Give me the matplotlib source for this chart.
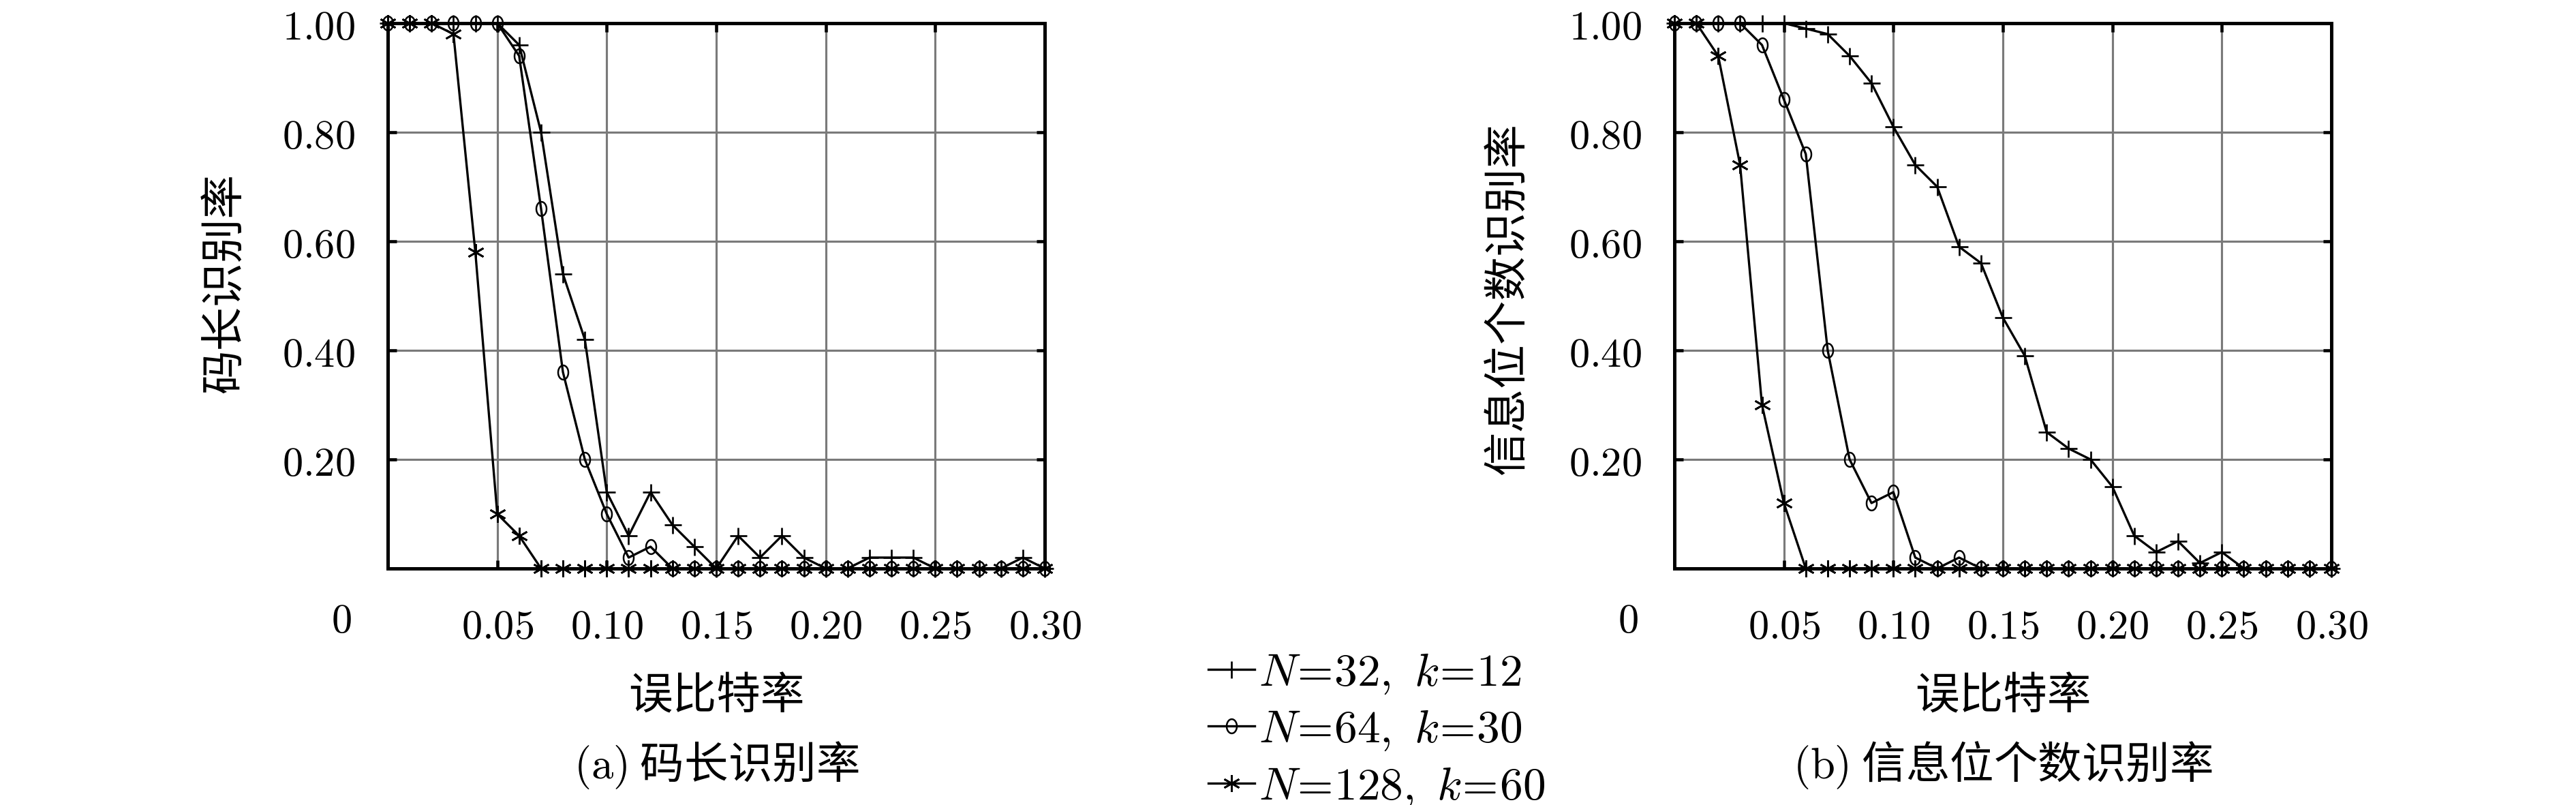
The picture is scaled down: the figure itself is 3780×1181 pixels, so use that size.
import matplotlib
matplotlib.use("Agg")
import matplotlib.pyplot as plt
from matplotlib.path import Path
from matplotlib.ticker import FuncFormatter
import numpy as np

plt.rcParams['font.family'] = ['Noto Sans CJK SC', 'DejaVu Sans']
plt.rcParams['mathtext.fontset'] = 'cm'
plt.rcParams['axes.unicode_minus'] = False

# ---------------- data ----------------
ber = [0.00, 0.01, 0.02, 0.03, 0.04, 0.05, 0.06, 0.07, 0.08, 0.09, 0.10,
       0.11, 0.12, 0.13, 0.14, 0.15, 0.16, 0.17, 0.18, 0.19, 0.20,
       0.21, 0.22, 0.23, 0.24, 0.25, 0.26, 0.27, 0.28, 0.29, 0.30]

# (a) code length recognition rate
a_n32 = [1.00, 1.00, 1.00, 1.00, 1.00, 1.00, 0.96, 0.80, 0.54, 0.42, 0.14,
         0.06, 0.14, 0.08, 0.04, 0.00, 0.06, 0.02, 0.06, 0.02, 0.00,
         0.00, 0.02, 0.02, 0.02, 0.00, 0.00, 0.00, 0.00, 0.02, 0.00]
a_n64 = [1.00, 1.00, 1.00, 1.00, 1.00, 1.00, 0.94, 0.66, 0.36, 0.20, 0.10,
         0.02, 0.04, 0.00, 0.00, 0.00, 0.00, 0.00, 0.00, 0.00, 0.00,
         0.00, 0.00, 0.00, 0.00, 0.00, 0.00, 0.00, 0.00, 0.00, 0.00]
a_n128 = [1.00, 1.00, 1.00, 0.98, 0.58, 0.10, 0.06, 0.00, 0.00, 0.00, 0.00,
          0.00, 0.00, 0.00, 0.00, 0.00, 0.00, 0.00, 0.00, 0.00, 0.00,
          0.00, 0.00, 0.00, 0.00, 0.00, 0.00, 0.00, 0.00, 0.00, 0.00]

# (b) information-bit count recognition rate
b_n32 = [1.00, 1.00, 1.00, 1.00, 1.00, 1.00, 0.99, 0.98, 0.94, 0.89, 0.81,
         0.74, 0.70, 0.59, 0.56, 0.46, 0.39, 0.25, 0.22, 0.20, 0.15,
         0.06, 0.03, 0.05, 0.01, 0.03, 0.00, 0.00, 0.00, 0.00, 0.00]
b_n64 = [1.00, 1.00, 1.00, 1.00, 0.96, 0.86, 0.76, 0.40, 0.20, 0.12, 0.14,
         0.02, 0.00, 0.02, 0.00, 0.00, 0.00, 0.00, 0.00, 0.00, 0.00,
         0.00, 0.00, 0.00, 0.00, 0.00, 0.00, 0.00, 0.00, 0.00, 0.00]
b_n128 = [1.00, 1.00, 0.94, 0.74, 0.30, 0.12, 0.00, 0.00, 0.00, 0.00, 0.00,
          0.00, 0.00, 0.00, 0.00, 0.00, 0.00, 0.00, 0.00, 0.00, 0.00,
          0.00, 0.00, 0.00, 0.00, 0.00, 0.00, 0.00, 0.00, 0.00, 0.00]

series_labels = [r"$N\!=\!32,\ k\!=\!12$", r"$N\!=\!64,\ k\!=\!30$",
                 r"$N\!=\!128,\ k\!=\!60$"]
x_ticks = [0.05, 0.10, 0.15, 0.20, 0.25, 0.30]
y_ticks = [0.20, 0.40, 0.60, 0.80, 1.00]
x_label = "误比特率"
y_labels = ["码长识别率", "信息位个数识别率"]
captions = [r"$\mathrm{(a)}$ 码长识别率", r"$\mathrm{(b)}$ 信息位个数识别率"]

# ---------------- styling ----------------
W, H = 3780, 1181
fig = plt.figure(figsize=(W / 300, H / 300), dpi=300)

th = np.linspace(0, 2 * np.pi, 41)
ellipse = Path(np.column_stack([0.72 * np.cos(th), np.sin(th)]), closed=True)

styles = [
    dict(marker='+', markersize=6.0, markeredgewidth=0.65),
    dict(marker=ellipse, markersize=5.0, markeredgewidth=0.6, markerfacecolor='none'),
    dict(marker=(6, 2, 0), markersize=6.0, markeredgewidth=0.65),
]

ax_left_px = [569, 2457]
ax_w_px, ax_top_px, ax_bot_px = 964, 34, 834

panels = [(a_n32, a_n64, a_n128), (b_n32, b_n64, b_n128)]
handles = None
for k, data in enumerate(panels):
    ax = fig.add_axes([ax_left_px[k] / W, 1 - ax_bot_px / H,
                       ax_w_px / W, (ax_bot_px - ax_top_px) / H])
    hs = []
    for ys, st in zip(data, styles):
        h, = ax.plot(ber, ys, color='black', linewidth=0.8, clip_on=False,
                     zorder=3, **st)
        hs.append(h)
    handles = hs
    ax.set_xlim(0, 0.30)
    ax.set_ylim(0, 1.0)
    ax.set_xticks(x_ticks)
    ax.set_yticks(y_ticks)
    ax.xaxis.set_major_formatter(FuncFormatter(lambda v, p: f"${v:.2f}$"))
    ax.yaxis.set_major_formatter(FuncFormatter(lambda v, p: f"${v:.2f}$"))
    ax.tick_params(axis='both', direction='in', length=3.0, width=1.1,
                   top=True, right=True, labelsize=14.5, colors='black')
    ax.tick_params(axis='x', pad=13)
    ax.tick_params(axis='y', pad=11.5)
    ax.grid(True, color='#7a7a7a', linewidth=0.75, zorder=1)
    ax.set_axisbelow(True)
    for sp in ax.spines.values():
        sp.set_linewidth(1.2)
        sp.set_color('black')
        sp.set_zorder(2.5)
    ax.text(-68 / ax_w_px, -77 / 800, "$0$", transform=ax.transAxes,
            ha='center', va='center', fontsize=14.5)

    cx = (ax_left_px[k] + ax_w_px / 2) / W
    fig.text(cx, 1 - 1022 / H, x_label, ha='center', va='center', fontsize=15.5)
    fig.text(cx, 1 - 1123 / H, captions[k], ha='center', va='center', fontsize=15.5)

fig.text(330 / W, 1 - 415 / H, y_labels[0], rotation=90, ha='center', va='center',
         fontsize=15.5)
fig.text(2213 / W, 1 - 437 / H, y_labels[1], rotation=90, ha='center', va='center',
         fontsize=15.5)

fig.legend(handles, series_labels, loc='center left',
           bbox_to_anchor=(1773 / W, 1 - 1070 / H), frameon=False, fontsize=16.2,
           handlelength=1.0, handletextpad=0.1, labelspacing=0.2,
           borderpad=0, borderaxespad=0)

fig.savefig("out.png", dpi=300, facecolor='white')
